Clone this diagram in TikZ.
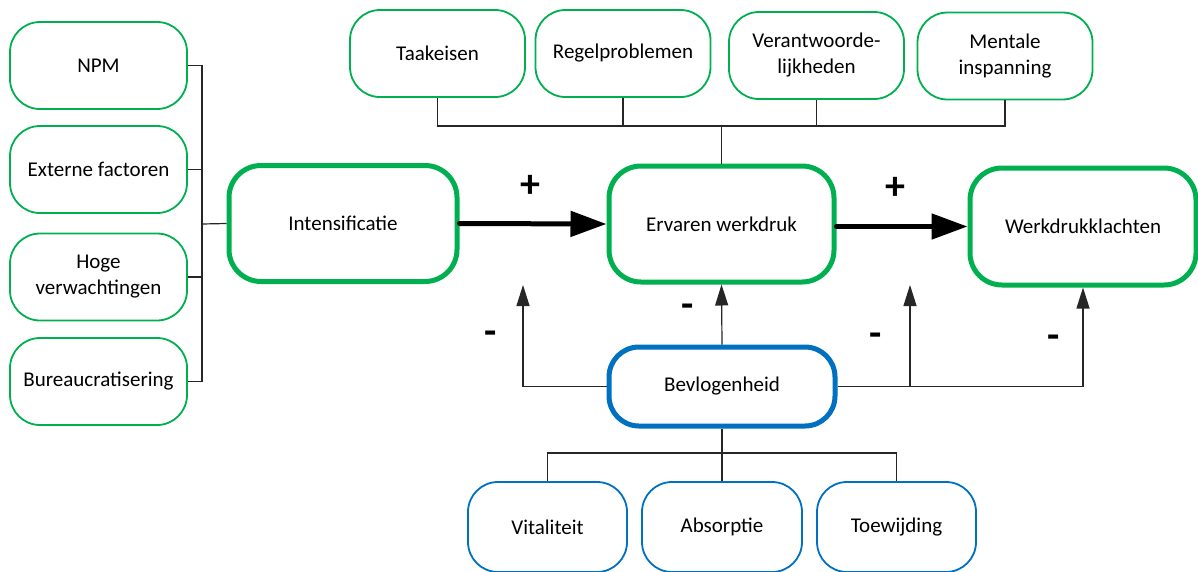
\documentclass[tikz,border=0pt]{standalone}
\usepackage{fontspec}
\setmainfont{Carlito}
\usetikzlibrary{arrows.meta}
\definecolor{boxgreen}{HTML}{00B050}
\definecolor{boxblue}{HTML}{0070C0}
\begin{document}
\begin{tikzpicture}[x=1pt,y=-1pt,
  every node/.style={font=\fontsize{21}{26}\selectfont, align=center, inner sep=2pt},
  factor/.style={draw=boxgreen, line width=1.8pt, rounded corners=30pt, fill=white,
                 minimum width=175pt, minimum height=87pt},
  mainbox/.style={draw=boxgreen, line width=5pt, rounded corners=32pt, fill=white,
                  minimum width=226pt, minimum height=116pt},
  engbox/.style={draw=boxblue, line width=5pt, rounded corners=30pt, fill=white,
                 minimum width=226pt, minimum height=79pt},
  subbox/.style={draw=boxblue, line width=1.8pt, rounded corners=30pt, fill=white,
                 minimum width=159pt, minimum height=90pt},
  link/.style={draw=black!85, line width=1.2pt},
  thinarrow/.style={link, -{Triangle[length=21pt,width=13pt]}},
  thickarrow/.style={draw=black, line width=5pt, line cap=round, -{Triangle[length=36pt,width=25pt]}},
  sign/.style={font=\fontsize{40}{40}\selectfont\bfseries, inner sep=0pt}]
\useasboundingbox (0,0) rectangle (1198,571);

% antecedents of intensification
\node[factor, minimum width=177pt] (npm) at (98.5,65.5) {NPM};
\node[factor, minimum width=177pt] (ext) at (98.5,169.5) {Externe factoren};
\node[factor, minimum width=177pt] (hoge) at (98.5,277) {Hoge\\verwachtingen};
\node[factor, minimum width=177pt] (bur) at (98.5,381.5) {Bureaucratisering};

% job aspects feeding perceived workload
\node[factor] (tak) at (437.5,53.5) {Taakeisen};
\node[factor] (reg) at (623,53.5) {Regelproblemen};
\node[factor] (ver) at (816.5,55.5) {Verantwoorde-\\lijkheden};
\node[factor] (men) at (1005,56) {Mentale\\inspanning};

% main chain
\node[mainbox, minimum width=228pt] (int) at (343,223.5) {Intensificatie};
\node[mainbox, minimum width=225pt] (erv) at (721.5,224) {Ervaren werkdruk};
\node[mainbox, minimum height=117pt] (wdk) at (1083,226.5) {Werkdrukklachten};

% work engagement and its dimensions
\node[engbox] (bev) at (722,386.5) {Bevlogenheid};
\node[subbox] (vit) at (547.5,527) {Vitaliteit};
\node[subbox, minimum width=160pt] (abs) at (722,527) {Absorptie};
\node[subbox] (toe) at (896.5,527) {Toewijding};

% junction points
\coordinate (lj) at (202,224);
\coordinate (tj) at (721.5,126);
\coordinate (bj) at (722,453);
\coordinate (ia) at (523,285);
\coordinate (wa) at (910,285);

% left bracket
\draw[link] (npm.east) -| (lj);
\draw[link] (bur.east) -| (lj);
\draw[link] (ext.east) -| (lj);
\draw[link] (hoge.east) -| (lj);
\draw[link] (lj) -- (int.west);

% top bracket
\draw[link] (tak.south) |- (tj);
\draw[link] (reg.south) |- (tj);
\draw[link] (ver.south) |- (tj);
\draw[link] (men.south) |- (tj);
\draw[link] (tj) -- (erv.north);

% bottom bracket
\draw[link] (bev.south) -- (bj);
\draw[link] (vit.north) |- (bj);
\draw[link] (abs.north) -- (bj);
\draw[link] (toe.north) |- (bj);

% moderating effects of engagement
\draw[thinarrow] (bev.west) -| (ia);
\draw[thinarrow] (bev.north) -- (erv.south);
\draw[thinarrow] (bev.east) -| (wdk.south);
\draw[thinarrow] (bev.east -| wa) -- (wa);

% main positive effects
\draw[thickarrow] (int.east) -- (erv.west);
\draw[thickarrow] (erv.east |- wdk.west) -- (wdk.west);

% signs
\node[sign] (p1) at (530,186) {+};
\node[sign] (p2) at (895,188) {+};
\node[sign] (m1) at (491,338) {-};
\node[sign] (m2) at (688,311) {-};
\node[sign] (m3) at (876,340) {-};
\node[sign] (m4) at (1054,342) {-};
\end{tikzpicture}
\end{document}
